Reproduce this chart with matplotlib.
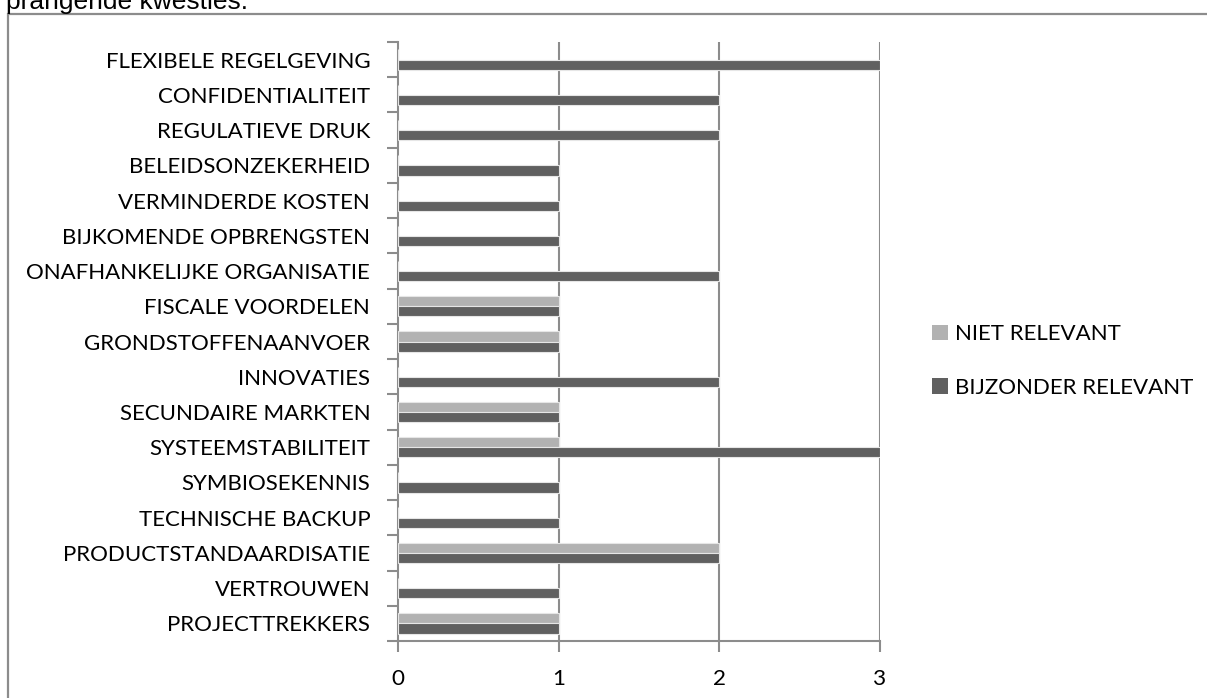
import numpy as np
import matplotlib.pyplot as plt
from matplotlib.patches import Rectangle, Patch

# categorieen van onder naar boven
categories = [
    "PROJECTTREKKERS",
    "VERTROUWEN",
    "PRODUCTSTANDAARDISATIE",
    "TECHNISCHE BACKUP",
    "SYMBIOSEKENNIS",
    "SYSTEEMSTABILITEIT",
    "SECUNDAIRE MARKTEN",
    "INNOVATIES",
    "GRONDSTOFFENAANVOER",
    "FISCALE VOORDELEN",
    "ONAFHANKELIJKE ORGANISATIE",
    "BIJKOMENDE OPBRENGSTEN",
    "VERMINDERDE KOSTEN",
    "BELEIDSONZEKERHEID",
    "REGULATIEVE DRUK",
    "CONFIDENTIALITEIT",
    "FLEXIBELE REGELGEVING",
]
niet_relevant = [1, 0, 2, 0, 0, 1, 1, 0, 1, 1, 0, 0, 0, 0, 0, 0, 0]
bijzonder_relevant = [1, 1, 2, 1, 1, 3, 1, 2, 1, 1, 2, 1, 1, 1, 2, 2, 3]
series_names = ["NIET RELEVANT", "BIJZONDER RELEVANT"]
x_ticks = [0, 1, 2, 3]

light = "#b2b2b2"
dark = "#606060"
grid_col = "#8c8c8c"

plt.rcParams['font.family'] = ['Lato', 'DejaVu Sans']

fig = plt.figure(figsize=(12.07, 6.98), dpi=100)
W, H = 1207, 698

# kader rond de grafiek
fig.patches.append(Rectangle((8 / W, -0.1), 1.2, 1 - 14 / H + 0.1,
                             transform=fig.transFigure, fill=False,
                             edgecolor=grid_col, linewidth=1.6))
fig.text(6 / W, 1 - 9 / H, "prangende kwesties.", family='Liberation Sans',
         fontsize=19, va='baseline', ha='left')

ax = fig.add_axes([398 / W, 1 - 641 / H, (880 - 398) / W, (641 - 42) / H])

y = np.arange(len(categories))
h = 0.29
ax.barh(y + h / 2, niet_relevant, height=h, color=light, edgecolor="#e6e6e6",
        linewidth=0.8, zorder=3)
ax.barh(y - h / 2, bijzonder_relevant, height=h, color=dark, edgecolor="#e6e6e6",
        linewidth=0.8, zorder=3)

ax.set_xlim(0, 3)
ax.set_ylim(-0.5, len(categories) - 0.5)
ax.set_xticks(x_ticks)
ax.set_xticklabels([str(t) for t in x_ticks])
ax.set_yticks(y)
ax.set_yticklabels(categories)
ax.set_yticks(np.arange(len(categories) + 1) - 0.5, minor=True)

for xv in x_ticks[1:]:
    ax.axvline(xv, color=grid_col, linewidth=1.5, zorder=1)

for s in ['top', 'right']:
    ax.spines[s].set_visible(False)
for s in ['left', 'bottom']:
    ax.spines[s].set_color(grid_col)
    ax.spines[s].set_linewidth(1.5)

ax.tick_params(axis='y', which='major', length=0, pad=20, labelsize=16)
ax.tick_params(axis='y', which='minor', length=8, width=1.5, color=grid_col,
               direction='out')
ax.tick_params(axis='x', length=8, width=1.5, color=grid_col, direction='out',
               pad=12, labelsize=16.2)

handles = [Patch(facecolor=light, edgecolor='none'),
           Patch(facecolor=dark, edgecolor='none')]
fig.legend(handles, series_names, loc='center left',
           bbox_to_anchor=(912 / W, 1 - 361 / H), frameon=False,
           fontsize=16, handlelength=0.7, handleheight=0.7,
           handletextpad=0.35, labelspacing=1.5)

fig.savefig("out.png", dpi=100)
